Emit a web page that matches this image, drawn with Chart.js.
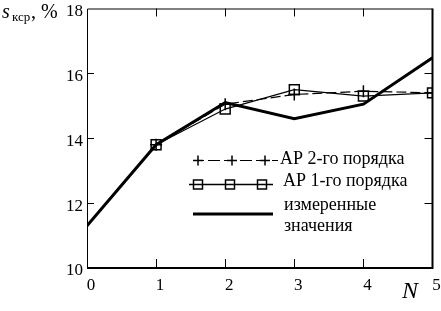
<!DOCTYPE html>
<html><head><meta charset="utf-8">
<script src="https://cdn.jsdelivr.net/npm/chart.js@4"></script>
<style>html,body{margin:0;padding:0;background:#fff;} canvas{display:block;}</style>
</head><body>
<canvas id="c" width="441" height="311"></canvas>
<script>
const N = [0, 1, 2, 3, 4, 5];
const measured = [11.3, 13.8, 15.1, 14.6, 15.05, 16.48];
const ar1 = [null, 13.8, 14.9, 15.5, 15.3, 15.4];
const ar2 = [null, 13.8, 15.05, 15.35, 15.45, 15.4];
const yTicks = [10, 12, 14, 16, 18];
const xTicks = [0, 1, 2, 3, 4, 5];
const labelAR2 = 'АР 2-го порядка';
const labelAR1 = 'АР 1-го порядка';
const labelMeas = ['измеренные', 'значения'];

const pts = arr => N.map((x, i) => ({x: x, y: arr[i]}));
const SERIF = '"Liberation Serif", "DejaVu Serif", serif';

const framePlugin = {
  id: 'frame',
  afterDraw(chart) {
    const ctx = chart.ctx, a = chart.chartArea;
    const xs = chart.scales.x, ys = chart.scales.y;
    ctx.save();
    ctx.strokeStyle = '#000';
    ctx.lineCap = 'butt';
    // frame
    ctx.lineWidth = 1;
    ctx.beginPath();
    ctx.moveTo(a.left + 0.5, a.bottom); ctx.lineTo(a.left + 0.5, a.top + 0.5);
    ctx.lineTo(a.right, a.top + 0.5);
    ctx.stroke();
    ctx.lineWidth = 2;
    ctx.beginPath();
    ctx.moveTo(a.left, a.bottom); ctx.lineTo(a.right + 1, a.bottom);
    ctx.moveTo(a.right, a.top); ctx.lineTo(a.right, a.bottom + 1);
    ctx.stroke();
    // inward ticks
    ctx.lineWidth = 1;
    ctx.beginPath();
    yTicks.forEach(v => {
      if (v === 10 || v === 18) return;
      const py = Math.round(ys.getPixelForValue(v)) + 0.5;
      ctx.moveTo(a.left, py); ctx.lineTo(a.left + 7, py);
      ctx.moveTo(a.right, py); ctx.lineTo(a.right - 8, py);
    });
    xTicks.forEach(v => {
      if (v === 0 || v === 5) return;
      const px = Math.round(xs.getPixelForValue(v)) + 0.5;
      ctx.moveTo(px, a.top); ctx.lineTo(px, a.top + 8);
      ctx.moveTo(px, a.bottom); ctx.lineTo(px, a.bottom - 9);
    });
    ctx.stroke();

    // axis titles
    ctx.fillStyle = '#000';
    ctx.textBaseline = 'alphabetic';
    ctx.textAlign = 'left';
    ctx.font = 'italic 20px ' + SERIF;
    ctx.fillText('s', 2, 18);
    ctx.font = '13px ' + SERIF;
    ctx.fillText('кср', 12, 21);
    ctx.font = '20px ' + SERIF;
    ctx.fillText(', %', 31, 18);
    ctx.font = 'italic 24px ' + SERIF;
    ctx.fillText('N', 402, 298);

    // legend
    ctx.font = '18px ' + SERIF;
    // row 1: AR2
    let y = 160.5;
    ctx.lineWidth = 1;
    ctx.setLineDash([12, 4]);
    ctx.lineDashOffset = -5;
    ctx.beginPath(); ctx.moveTo(203, y); ctx.lineTo(278, y); ctx.stroke();
    ctx.setLineDash([]);
    ctx.lineWidth = 1.5;
    [198, 232, 265].forEach(px => {
      ctx.beginPath();
      ctx.moveTo(px - 5, y); ctx.lineTo(px + 5, y);
      ctx.moveTo(px, y - 5); ctx.lineTo(px, y + 5);
      ctx.stroke();
    });
    ctx.fillText(labelAR2, 280, 164);
    // row 2: AR1
    y = 184.5;
    ctx.lineWidth = 1.5;
    ctx.beginPath(); ctx.moveTo(189, y); ctx.lineTo(273, y); ctx.stroke();
    [198, 230, 262].forEach(px => {
      ctx.strokeRect(px - 4.5, y - 4.5, 9, 9);
    });
    ctx.fillText(labelAR1, 283, 186);
    // row 3: measured
    y = 214;
    ctx.lineWidth = 3;
    ctx.beginPath(); ctx.moveTo(193, y); ctx.lineTo(273, y); ctx.stroke();
    ctx.fillText(labelMeas[0], 284, 210);
    ctx.fillText(labelMeas[1], 284, 231);
    ctx.restore();
  }
};

new Chart(document.getElementById('c'), {
  type: 'line',
  data: {
    datasets: [
      { label: labelMeas.join(' '), data: pts(measured), borderColor: '#000', borderWidth: 3,
        pointRadius: 0, tension: 0 },
      { label: labelAR1, data: pts(ar1), borderColor: '#000', borderWidth: 1.2,
        pointStyle: 'rect', pointRadius: 7, pointBorderWidth: 1.5,
        pointBorderColor: '#000', pointBackgroundColor: 'rgba(0,0,0,0)', tension: 0, spanGaps: false },
      { label: labelAR2, data: pts(ar2), borderColor: '#000', borderWidth: 1.2, borderDash: [10, 4],
        pointStyle: 'cross', pointRadius: 6, pointBorderWidth: 1.5,
        pointBorderColor: '#000', tension: 0, spanGaps: false }
    ]
  },
  options: {
    responsive: false,
    animation: false,
    devicePixelRatio: 1,
    layout: { padding: { left: 0, right: 7, top: 4, bottom: 0 } },
    plugins: { legend: { display: false }, tooltip: { enabled: false } },
    scales: {
      x: {
        type: 'linear', min: 0, max: 5,
        afterBuildTicks: s => { s.ticks = xTicks.map(v => ({value: v})); },
        afterFit: s => { s.height = 43; s.paddingLeft = 0; s.paddingRight = 0; },
        grid: { display: false, drawTicks: false },
        border: { display: false },
        ticks: { color: '#000', font: { family: SERIF, size: 17 }, padding: 7, labelOffset: 4,
                 maxRotation: 0, autoSkip: false }
      },
      y: {
        min: 10, max: 18,
        afterBuildTicks: s => { s.ticks = yTicks.map(v => ({value: v})); },
        afterFit: s => { s.width = 87; s.paddingTop = 0; s.paddingBottom = 0; },
        grid: { display: false, drawTicks: false },
        border: { display: false },
        ticks: { color: '#000', font: { family: SERIF, size: 17 }, padding: 4, labelOffset: 3,
                 autoSkip: false }
      }
    }
  },
  plugins: [framePlugin]
});
</script>
</body></html>
